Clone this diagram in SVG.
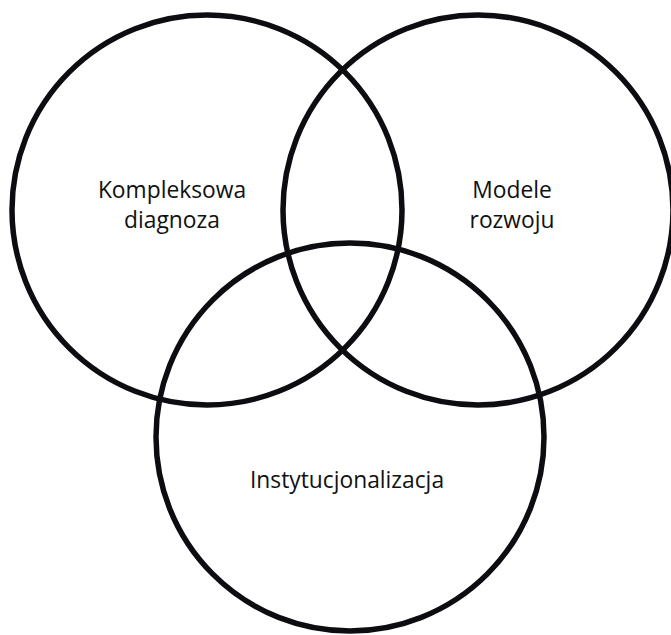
<svg xmlns="http://www.w3.org/2000/svg" width="671" height="635" viewBox="0 0 671 635">
<style>
.c{fill:none;stroke:#0d0c10;stroke-width:5.5}
.t{font-family:"Open Sans","Noto Sans",sans-serif;font-size:22.8px;fill:#111;text-anchor:middle}
</style>
<rect width="671" height="635" fill="#fff"/>
<g id="connectors"></g>
<g id="left"><circle class="c" cx="207" cy="210" r="195"/><text class="t" x="172" y="198">Kompleksowa</text><text class="t" x="172" y="228">diagnoza</text></g>
<g id="right"><circle class="c" cx="478" cy="210" r="195"/><text class="t" x="512" y="198">Modele</text><text class="t" x="512" y="228">rozwoju</text></g>
<g id="bottom"><circle class="c" cx="350" cy="437" r="194"/><text class="t" x="347" y="488">Instytucjonalizacja</text></g>
</svg>
